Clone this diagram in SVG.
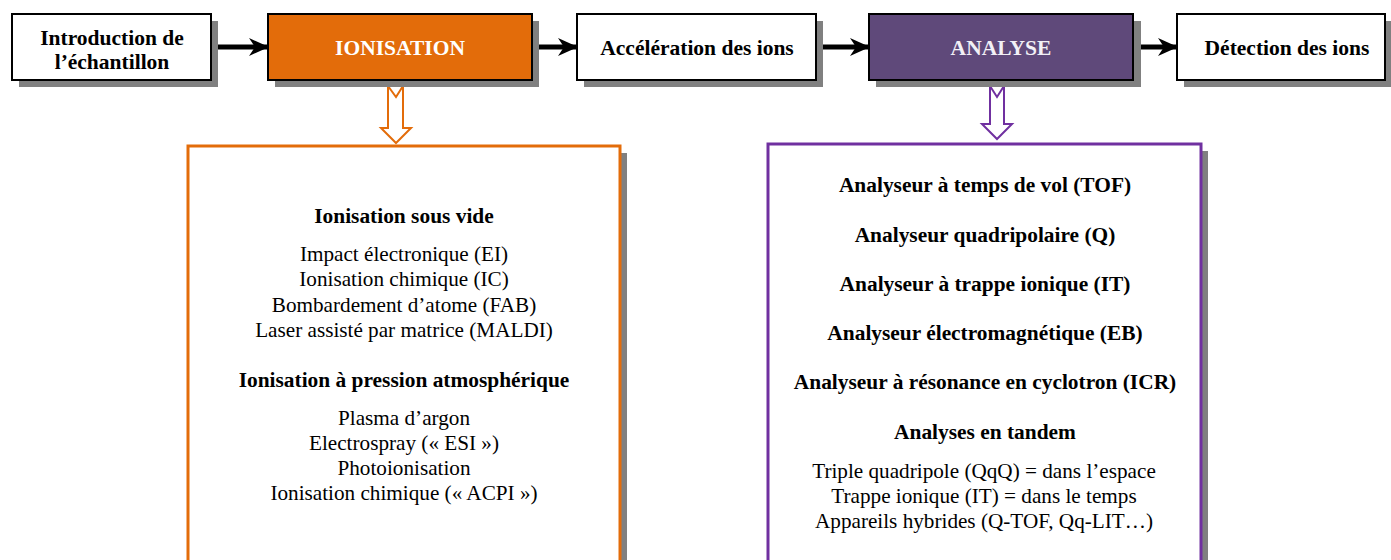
<svg xmlns="http://www.w3.org/2000/svg" width="1391" height="560" viewBox="0 0 1391 560">
  <defs>
    <marker id="head" viewBox="0 0 20 18" refX="19" refY="9" markerWidth="20" markerHeight="18" markerUnits="userSpaceOnUse" orient="auto">
      <path d="M0,0 L20,9 L0,18 L6,9 Z" fill="#000"/>
    </marker>
    <style>
      .shadow { fill: #808080; }
      .step { stroke: #000; stroke-width: 2; }
      .title { font-family: "Liberation Serif", "Times New Roman", serif; font-weight: bold; font-size: 21.5px; text-anchor: middle; }
      .body { font-family: "Liberation Serif", "Times New Roman", serif; font-size: 21.2px; text-anchor: middle; fill: #000; }
      .bold { font-weight: bold; font-size: 21.4px; }
      .flow { stroke: #000; stroke-width: 5; fill: none; marker-end: url(#head); }
    </style>
  </defs>
  <rect width="1391" height="560" fill="#fff"/>

  <!-- connectors -->
  <g id="connectors">
    <line class="flow" x1="212" y1="47" x2="268" y2="47"/>
    <line class="flow" x1="532" y1="47" x2="577" y2="47"/>
    <line class="flow" x1="816" y1="47" x2="869" y2="47"/>
    <line class="flow" x1="1133" y1="47" x2="1177" y2="47"/>
    <polygon points="388,86 396,97 403,86 403,128 411,128 396,143 381,128 388,128" fill="#fff" stroke="#E36C0A" stroke-width="2"/>
    <polygon points="990,86 997,97 1004,86 1004,124 1012,124 997,139 982,124 990,124" fill="#fff" stroke="#7030A0" stroke-width="2"/>
  </g>

  <g id="introduction">
    <rect class="shadow" x="19" y="21" width="199" height="66"/>
    <rect class="step" x="12" y="14" width="199" height="66" fill="#fff"/>
    <text class="title" x="112" y="45">Introduction de</text>
    <text class="title" x="112" y="69">l’échantillon</text>
  </g>

  <g id="ionisation">
    <rect class="shadow" x="275" y="21" width="264" height="66"/>
    <rect class="step" x="268" y="14" width="264" height="66" fill="#E36C0A"/>
    <text class="title" x="400" y="55" fill="#fff">IONISATION</text>
  </g>

  <g id="acceleration">
    <rect class="shadow" x="584" y="21" width="239" height="66"/>
    <rect class="step" x="577" y="14" width="239" height="66" fill="#fff"/>
    <text class="title" x="697" y="55">Accélération des ions</text>
  </g>

  <g id="analyse">
    <rect class="shadow" x="876" y="21" width="265" height="66"/>
    <rect class="step" x="869" y="14" width="264" height="66" fill="#5F497A"/>
    <text class="title" x="1001" y="55" fill="#F2F0F6">ANALYSE</text>
  </g>

  <g id="detection">
    <rect class="shadow" x="1184" y="21" width="209" height="66"/>
    <rect class="step" x="1177" y="14" width="208" height="66" fill="#fff"/>
    <text class="title" x="1287" y="55">Détection des ions</text>
  </g>

  <g id="ionisation-details">
    <rect class="shadow" x="195" y="153" width="432" height="430"/>
    <rect x="188" y="146" width="432" height="430" fill="#fff" stroke="#E36C0A" stroke-width="3"/>
    <text class="body bold" x="404" y="223">Ionisation sous vide</text>
    <text class="body" x="404" y="261">Impact électronique (EI)</text>
    <text class="body" x="404" y="286">Ionisation chimique (IC)</text>
    <text class="body" x="404" y="312">Bombardement d’atome (FAB)</text>
    <text class="body" x="404" y="337">Laser assisté par matrice (MALDI)</text>
    <text class="body bold" x="404" y="387">Ionisation à pression atmosphérique</text>
    <text class="body" x="404" y="425">Plasma d’argon</text>
    <text class="body" x="404" y="450">Electrospray (« ESI »)</text>
    <text class="body" x="404" y="475">Photoionisation</text>
    <text class="body" x="404" y="500">Ionisation chimique (« ACPI »)</text>
  </g>

  <g id="analyse-details">
    <rect class="shadow" x="775" y="151" width="433" height="430"/>
    <rect x="768" y="144" width="433" height="430" fill="#fff" stroke="#7030A0" stroke-width="3"/>
    <text class="body bold" x="985" y="192">Analyseur à temps de vol (TOF)</text>
    <text class="body bold" x="985" y="242">Analyseur quadripolaire (Q)</text>
    <text class="body bold" x="985" y="291">Analyseur à trappe ionique (IT)</text>
    <text class="body bold" x="985" y="340">Analyseur électromagnétique (EB)</text>
    <text class="body bold" x="985" y="389">Analyseur à résonance en cyclotron (ICR)</text>
    <text class="body bold" x="985" y="439">Analyses en tandem</text>
    <text class="body" x="984" y="478">Triple quadripole (QqQ) = dans l’espace</text>
    <text class="body" x="984" y="503">Trappe ionique (IT) = dans le temps</text>
    <text class="body" x="984" y="528">Appareils hybrides (Q-TOF, Qq-LIT…)</text>
  </g>
</svg>
